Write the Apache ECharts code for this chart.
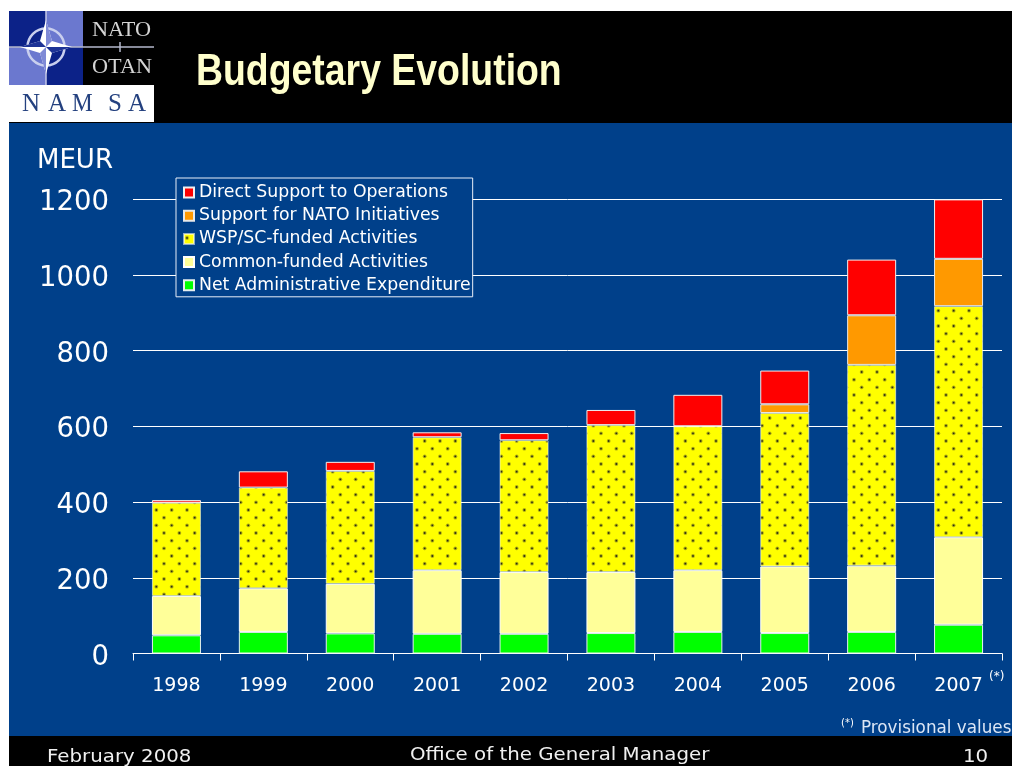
<!DOCTYPE html>
<html>
<head>
<meta charset="utf-8">
<style>html,body{margin:0;padding:0;background:#fff}#chart{width:1012px;height:766px}</style>
<script src="https://cdn.jsdelivr.net/npm/echarts@6/dist/echarts.min.js"></script>
</head>
<body>
<div id="chart"></div>
<script>
// Budget categories and annual amounts in MEUR
const years = ['1998','1999','2000','2001','2002','2003','2004','2005','2006','2007'];
const netAdministrative = [48,57,53,52,52,54,57,54,57,76];
const commonFunded = [104,115,131,168,163,161,163,176,175,231];
const wspFunded = [246,266,298,351,348,388,380,405,530,610];
const natoInitiatives = [null,null,null,null,null,null,null,23,131,125];
const directSupport = [7,43,24,13,19,40,83,89,147,157];
const yTicks = [0,200,400,600,800,1000,1200];

const names = {
  direct: 'Direct Support to Operations',
  nato: 'Support for NATO Initiatives',
  wsp: 'WSP/SC-funded Activities',
  common: 'Common-funded Activities',
  net: 'Net Administrative Expenditure'
};

// Dotted fill used for the WSP/SC-funded segment
function dottedFill() {
  const c = document.createElement('canvas');
  c.width = 46; c.height = 46;
  const g = c.getContext('2d');
  g.fillStyle = '#ffff00';
  g.fillRect(0, 0, 46, 46);
  const step = 46 / 3;
  const dot = (x, y) => {
    g.fillStyle = 'rgba(120,120,30,0.6)';
    g.beginPath(); g.arc(x, y, 1.9, 0, Math.PI * 2); g.fill();
    g.fillStyle = 'rgba(25,25,15,0.85)';
    g.beginPath(); g.arc(x, y, 0.9, 0, Math.PI * 2); g.fill();
  };
  for (let i = -1; i < 4; i++) {
    for (let j = -1; j < 4; j++) {
      dot(3 + i * step, 4 + j * step);
      dot(3 + step / 2 + i * step, 4 + step / 2 + j * step);
    }
  }
  return { image: c, repeat: 'repeat' };
}

const PANEL = '#00408a';
const SANS = '"DejaVu Sans", Verdana, sans-serif';
const SERIF = '"Liberation Serif", serif';

function bar(name, data, color, borderColor) {
  return {
    name, type: 'bar', stack: 'budget', data,
    barWidth: 49,
    itemStyle: { color, borderColor, borderWidth: 1 },
    emphasis: { disabled: true }
  };
}

// Slide furniture behind the plot
const backdrop = [
  { type: 'rect', z: -20, shape: { x: 9, y: 123, width: 1003, height: 613 }, style: { fill: PANEL } },
  { type: 'rect', z: -20, shape: { x: 9, y: 11, width: 1003, height: 112 }, style: { fill: '#000' } },
  { type: 'rect', z: -20, shape: { x: 9, y: 736, width: 1003, height: 30 }, style: { fill: '#000' } }
];

// Four-pointed compass emblem on its quartered field
const compass = [
  { type: 'rect', shape: { x: 9, y: 11, width: 37, height: 36 }, style: { fill: '#0c2288' } },
  { type: 'rect', shape: { x: 46, y: 11, width: 37, height: 36 }, style: { fill: '#6b78cf' } },
  { type: 'rect', shape: { x: 9, y: 47, width: 37, height: 38 }, style: { fill: '#6b78cf' } },
  { type: 'rect', shape: { x: 46, y: 47, width: 37, height: 38 }, style: { fill: '#0c2288' } },
  { type: 'rect', shape: { x: 9, y: 85, width: 145, height: 37 }, style: { fill: '#fff' } },
  { type: 'line', shape: { x1: 9, y1: 47, x2: 154, y2: 47 }, style: { stroke: '#b4b8cc', lineWidth: 1.5 } },
  { type: 'line', shape: { x1: 46, y1: 11, x2: 46, y2: 85 }, style: { stroke: '#c4c8e8', lineWidth: 1.5 } },
  { type: 'line', shape: { x1: 120, y1: 42, x2: 120, y2: 52 }, style: { stroke: '#b4b8cc', lineWidth: 1.5 } },
  { type: 'circle', shape: { cx: 46, cy: 47, r: 18.5 }, style: { fill: 'none', stroke: '#c9cfee', lineWidth: 2.5 } },
  { type: 'polygon', shape: { points: [[46,20],[52,41],[72,47],[52,53],[46,74],[40,53],[20,47],[40,41]] }, style: { fill: '#fff' } },
  { type: 'polygon', shape: { points: [[46,47],[52,41],[46,20]] }, style: { fill: '#7f8ad6' } },
  { type: 'polygon', shape: { points: [[46,47],[52,53],[72,47]] }, style: { fill: '#1d3396' } },
  { type: 'polygon', shape: { points: [[46,47],[40,53],[46,74]] }, style: { fill: '#7f8ad6' } },
  { type: 'polygon', shape: { points: [[46,47],[40,41],[20,47]] }, style: { fill: '#1d3396' } }
];

function label(text, x, y, font, fill, scaleX) {
  return {
    type: 'text', z: 20, x, y, scaleX: scaleX || 1, originX: 0, originY: 0,
    style: { text, x: 0, y: 0, font, fill, textAlign: 'left', textVerticalAlign: 'middle' }
  };
}

const labels = [
  label('NATO', 92, 30, '21px ' + SERIF, '#d4d4d4', 1.06),
  label('OTAN', 92, 67, '21px ' + SERIF, '#d4d4d4', 1.06),
  label('N', 22, 104, '25px ' + SERIF, '#24417f'),
  label('A', 48, 104, '25px ' + SERIF, '#24417f'),
  label('M', 72, 104, '25px ' + SERIF, '#24417f', 0.93),
  label('S', 108, 104, '25px ' + SERIF, '#24417f'),
  label('A', 128, 104, '25px ' + SERIF, '#24417f'),
  label('Budgetary Evolution', 196, 73, 'bold 44px "Liberation Sans", sans-serif', '#ffffcc', 0.85),
  label('MEUR', 37, 161, '26px ' + SANS, '#fff'),
  label('(*)', 989, 677, '12px ' + SANS, '#fff'),
  label('(*)', 841, 723, '10px ' + SANS, '#fff'),
  label('Provisional values', 861, 729, '16.8px ' + SANS, '#dce6f5'),
  label('February 2008', 47, 757, '18px ' + SANS, '#f0f0f0', 1.1),
  label('Office of the General Manager', 410, 755, '18px ' + SANS, '#f0f0f0', 1.1),
  label('10', 963, 757, '18px ' + SANS, '#f0f0f0', 1.1)
];

const chart = echarts.init(document.getElementById('chart'), null, { renderer: 'canvas' });
chart.setOption({
  animation: false,
  backgroundColor: '#fff',
  graphic: { elements: backdrop.concat(compass.map(e => Object.assign({ z: -10 }, e))).concat(labels) },
  grid: { left: 133, width: 869, top: 199, height: 454.5 },
  legend: {
    left: 176, top: 178, orient: 'vertical',
    data: [names.direct, names.nato, names.wsp, names.common, names.net],
    backgroundColor: PANEL,
    borderColor: '#e8eef8', borderWidth: 1,
    padding: [6, 2, 3, 7],
    itemWidth: 10, itemHeight: 10, itemGap: 6.2,
    icon: 'rect',
    selectedMode: false,
    textStyle: { color: '#fff', fontFamily: SANS, fontSize: 17.3, lineHeight: 17, padding: [0, 0, 0, 0] }
  },
  xAxis: {
    type: 'category', data: years,
    axisLine: { lineStyle: { color: '#fff', width: 1 } },
    axisTick: { show: true, length: 7, lineStyle: { color: '#fff', width: 1 } },
    axisLabel: { color: '#fff', fontFamily: SANS, fontSize: 19, margin: 23 }
  },
  yAxis: {
    type: 'value', min: 0, max: 1200, interval: 200,
    axisLine: { show: false }, axisTick: { show: false },
    splitLine: { lineStyle: { color: '#fff', width: 1 } },
    axisLabel: {
      margin: 24,
      formatter: v => yTicks.includes(v) ? '{tick|' + v + '}' : '',
      rich: { tick: { color: '#fff', fontFamily: SANS, fontSize: 27.5, padding: [8, 0, 0, 0] } }
    }
  },
  series: [
    bar(names.net, netAdministrative, '#00ff00', '#e6eef0'),
    bar(names.common, commonFunded, '#ffff99', '#ffffff'),
    bar(names.wsp, wspFunded, dottedFill(), 'rgba(255,255,255,0.55)'),
    bar(names.nato, natoInitiatives, '#ff9900', '#e8e8e8'),
    bar(names.direct, directSupport, '#ff0000', '#f0f0f0')
  ]
});
</script>
</body>
</html>
